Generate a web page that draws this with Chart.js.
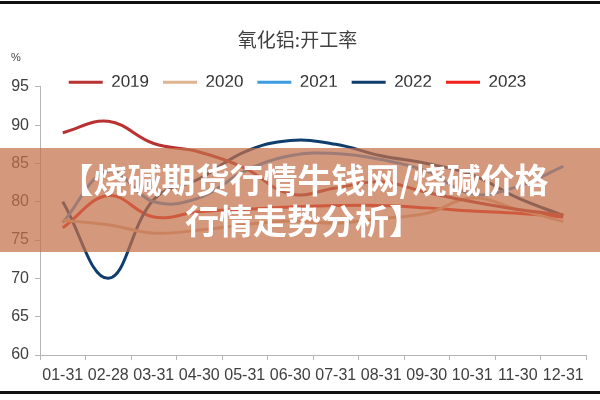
<!DOCTYPE html>
<html>
<head>
<meta charset="utf-8">
<script src="https://cdn.jsdelivr.net/npm/chart.js@4/dist/chart.umd.min.js"></script>
<style>
  body { margin: 0; background: #fff; }
  #wrap { position: relative; width: 600px; height: 400px; overflow: hidden; }
  #frameTop { position: absolute; left: 0; top: 1px; width: 600px; height: 3px; background: #111; }
  #frameBottom { position: absolute; left: 0; top: 391px; width: 600px; height: 3px; background: #111; }
  #unit { position: absolute; left: 11px; top: 51px; font: 11px "Liberation Sans", sans-serif; color: #444; }
  #band {
    position: absolute; left: 0; top: 148px; width: 600px; height: 104px;
    background: rgba(196, 112, 75, 0.72);
    color: #fff; font: 700 34px "Noto Sans CJK SC", sans-serif;
    text-align: center; line-height: 41px; padding-top: 10px; padding-left: 8px; box-sizing: border-box;
  }
</style>
</head>
<body>
<div id="wrap">
  <canvas id="myChart" width="600" height="400"></canvas>
  <div id="unit">%</div>
  <div id="band">【烧碱期货行情牛钱网/烧碱价格<br>行情走势分析】</div>
  <div id="frameTop"></div>
  <div id="frameBottom"></div>
</div>
<script>
var xValues = ["01-31", "02-28", "03-31", "04-30", "05-31", "06-30", "07-31", "08-31", "09-30", "10-31", "11-30", "12-31"];
var y2019 = [89.0, 90.5, 87.6, 86.5, 84.4, 81.0, 81.8, 82.6, 81.2, 80.0, 79.0, 78.3];
var y2020 = [77.6, 77.0, 75.9, 76.3, 77.0, 77.5, 77.2, 77.8, 78.5, 80.5, 79.0, 77.4];
var y2021 = [77.3, 84.0, 80.0, 80.5, 84.0, 86.0, 86.3, 85.5, 84.0, 81.0, 82.0, 84.6];
var y2022 = [80.0, 70.0, 80.3, 83.0, 86.5, 88.0, 87.5, 86.0, 85.0, 83.5, 80.5, 78.2];
var y2023 = [76.6, 80.8, 78.0, 78.7, 79.0, 79.3, 79.5, 79.5, 79.2, 78.8, 78.5, 78.0];
var seriesNames = ["2019", "2020", "2021", "2022", "2023"];
var lineColors = ["#b83232", "#dcb48f", "#3d9be0", "#0f3d6e", "#f0201c"];
var yTicks = [60, 65, 70, 75, 80, 85, 90, 95];

var allSeries = [y2019, y2020, y2021, y2022, y2023];
var tickFont = { family: "'Liberation Sans Narrow', 'Liberation Sans', sans-serif", size: 16 };

new Chart("myChart", {
    type: "line",
    data: {
        labels: xValues,
        datasets: allSeries.map((vals, i) => ({
            label: seriesNames[i],
            data: vals,
            borderColor: lineColors[i],
            backgroundColor: lineColors[i],
            borderWidth: 3,
            pointRadius: 0,
            tension: 0.4,
            fill: false
        }))
    },
    options: {
        responsive: false,
        animation: false,
        // plot sits at x 40..586; small left padding nudges the legend toward the middle
        layout: { padding: { left: 9, right: 14, top: 0, bottom: 0 } },
        plugins: {
            title: {
                display: true,
                text: "氧化铝:开工率",
                color: "#404040",
                font: { family: "'Noto Sans CJK SC', sans-serif", size: 19, weight: "normal" },
                padding: { top: 28, bottom: 9 }
            },
            legend: {
                display: true,
                maxHeight: 27,
                labels: {
                    color: "#333",
                    font: { family: "'Liberation Sans Narrow', 'Liberation Sans', sans-serif", size: 17 },
                    boxWidth: 34,
                    boxHeight: 0,
                    padding: 14
                }
            },
            tooltip: { enabled: false }
        },
        scales: {
            x: {
                offset: true,
                grid: { display: true, offset: true, drawOnChartArea: false, drawTicks: true, tickLength: 5, color: "#b5b5b5" },
                border: { display: true, color: "#b5b5b5" },
                ticks: { color: "#404040", font: tickFont, maxRotation: 0, autoSkip: false, padding: 6 },
                afterFit: s => { s.height = 45; }
            },
            y: {
                min: 60,
                max: 95,
                afterBuildTicks: s => { s.ticks = yTicks.map(v => ({ value: v })); },
                grid: { display: true, drawOnChartArea: false, drawTicks: true, tickLength: 5, color: "#b5b5b5" },
                border: { display: true, color: "#b5b5b5" },
                ticks: { color: "#404040", font: tickFont, padding: 6 },
                afterFit: s => { s.width = 31; }
            }
        }
    }
});
</script>
</body>
</html>
